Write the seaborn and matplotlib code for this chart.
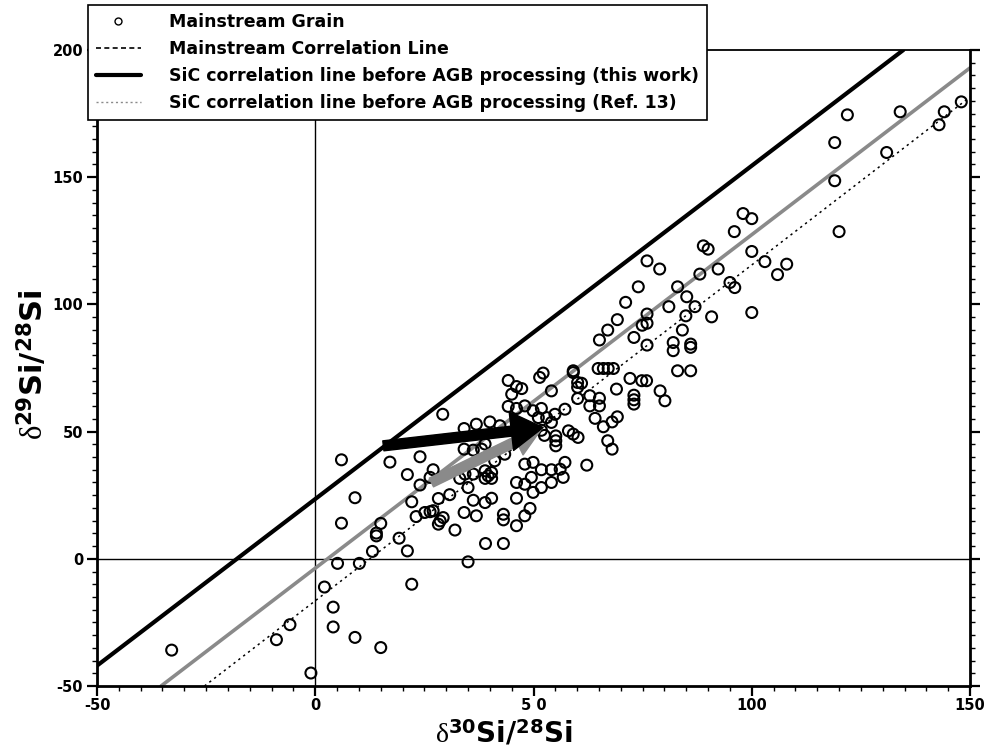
import matplotlib
matplotlib.use("Agg")
import matplotlib.pyplot as plt
from matplotlib.lines import Line2D
from matplotlib.ticker import MultipleLocator
import numpy as np
import pandas as pd
import seaborn as sns

# Mainstream SiC grain silicon isotope compositions (permil)
d30 = [
    -32.9, 6.0, 9.1, 6.0, 15.0, 14.0, 14.0, 13.1, 5.1, 10.1, 2.1, 4.1, 4.1, 9.1, 15.0, -5.8, -8.9, -1.0,
    44.2, 46.1, 47.3, 45.0, 51.4, 52.2, 54.1, 44.2, 46.1, 48.0, 49.9, 51.8, 54.9, 53.0, 51.1, 29.2,
    34.1, 36.9, 40.0, 42.3, 24.0, 17.1, 34.1, 36.2, 38.1, 38.9, 41.1, 43.4, 21.1, 27.0, 26.3, 24.0,
    33.1, 34.3, 36.2, 38.9, 39.6, 40.4, 38.9, 40.4, 35.0, 30.8, 22.1, 28.2, 36.2, 38.9, 40.4, 48.0,
    49.9, 51.8, 54.1, 49.5, 46.1, 48.0, 49.9, 51.8, 54.1, 46.1, 49.2, 48.0, 46.1, 25.1, 26.3, 27.0,
    23.1, 28.6, 29.3, 28.2, 34.1, 36.9, 43.1, 43.1, 32.0, 19.2, 21.1, 39.0, 43.1, 35.0, 22.1,
    88.9, 90.0, 76.0, 78.9, 74.0, 83.0, 88.1, 92.3, 85.1, 87.0, 81.0, 71.1, 69.2, 67.0, 65.1, 73.0,
    76.0, 74.9, 76.0, 84.9, 90.8, 84.1, 76.0, 82.0, 82.0, 86.0, 86.0, 64.8, 66.0, 67.1, 68.3, 59.1,
    59.1, 72.1, 74.8, 75.9, 83.0, 86.0, 60.1, 61.0, 60.1, 69.0, 60.1, 62.9, 65.1, 62.9, 65.1, 57.2,
    73.0, 73.0, 73.0, 79.0, 80.1, 64.1, 66.0, 68.0, 69.2, 67.0, 68.0, 58.0, 59.1, 60.2, 55.1, 55.1,
    55.1, 54.1, 62.2, 57.2, 56.1, 56.8, 51.8, 52.5,
    148.0, 144.1, 142.9, 134.0, 121.9, 119.0, 130.9, 119.0, 120.0, 98.0, 100.0, 96.0, 100.0, 103.0,
    108.0, 105.9, 95.0, 96.1, 100.0,
]
d29 = [
    -35.9, 38.9, 24.0, 14.0, 13.9, 10.1, 9.0, 2.9, -1.8, -1.8, -11.1, -19.0, -26.8, -30.9, -34.9, -25.9, -31.8, -44.9,
    70.1, 67.7, 66.9, 64.7, 71.3, 73.0, 66.0, 59.9, 59.1, 60.1, 58.2, 59.1, 56.8, 55.5, 55.5, 56.8,
    51.2, 52.9, 53.8, 52.3, 40.1, 38.0, 43.1, 42.7, 43.1, 45.1, 38.5, 41.1, 33.1, 35.0, 32.0, 29.0,
    31.6, 33.3, 33.3, 34.6, 32.6, 33.9, 31.6, 31.6, 28.0, 25.2, 22.4, 23.7, 23.0, 22.1, 23.8, 37.2,
    37.9, 35.0, 35.0, 32.0, 30.0, 29.3, 26.1, 28.0, 30.0, 23.8, 19.8, 16.9, 13.0, 18.2, 18.5, 18.9,
    16.6, 14.9, 16.2, 13.6, 18.2, 16.9, 17.5, 15.3, 11.3, 8.1, 3.1, 6.0, 6.0, -1.2, -10.0,
    123.0, 121.7, 117.1, 113.9, 106.9, 106.9, 111.9, 113.9, 103.0, 99.1, 99.1, 100.8, 94.0, 89.9, 86.0, 87.0,
    96.2, 91.8, 92.6, 95.5, 95.1, 89.9, 84.0, 85.0, 81.8, 84.4, 83.1, 74.8, 74.8, 74.8, 74.8, 73.9,
    73.2, 70.9, 70.0, 70.0, 73.9, 73.9, 69.3, 69.0, 67.4, 66.7, 63.0, 64.1, 63.1, 60.1, 60.1, 58.8,
    64.3, 62.5, 60.8, 66.0, 62.1, 55.2, 51.9, 53.8, 55.8, 46.4, 43.1, 50.3, 49.0, 47.7, 48.3, 46.4,
    44.4, 53.6, 36.8, 37.9, 35.2, 32.0, 50.5, 48.5,
    179.6, 175.7, 170.6, 175.7, 174.5, 163.6, 159.7, 148.6, 128.6, 135.7, 133.7, 128.6, 120.8, 116.8,
    115.8, 111.7, 108.6, 106.6, 96.8,
]

# Correlation lines: d29 = slope * d30 + intercept
line_names = ["this work", "mainstream", "Ref. 13"]
line_slopes = [1.31, 1.311, 1.32]
line_intercepts = [23.5, -3.7, -16.5]

# AGB processing shifts (start -> end) in (d30, d29)
black_arrow = [(15.6, 44.4), (52.2, 51.6)]
grey_arrow = [(26.6, 30.0), (51.8, 51.0)]

x_ticks = [-50, 0, 50, 100, 150]
x_tick_labels = ["-50", "0", "5 0", "100", "150"]
y_ticks = [-50, 0, 50, 100, 150, 200]
y_tick_labels = ["-50", "0", "50", "100", "150", "200"]

legend_labels = [
    "Mainstream Grain",
    "Mainstream Correlation Line",
    "SiC correlation line before AGB processing (this work)",
    "SiC correlation line before AGB processing (Ref. 13)",
]

sns.set_style("ticks")
plt.rcParams["font.family"] = ["DejaVu Sans"]
plt.rcParams["mathtext.fontset"] = "custom"
plt.rcParams["mathtext.rm"] = "Liberation Serif"
plt.rcParams["mathtext.bf"] = "DejaVu Sans:bold"
plt.rcParams["mathtext.it"] = "Liberation Serif"
for key in ["text.color", "axes.labelcolor", "xtick.color", "ytick.color", "axes.edgecolor"]:
    plt.rcParams[key] = "black"

GREY = "#8a8a8a"

fig = plt.figure(figsize=(9.84, 7.48), dpi=100)
ax = fig.add_axes([0.0986, 0.0829, 0.8872, 0.8503])

# zero reference lines
ax.axhline(0, color="black", lw=1.0, zorder=1)
ax.axvline(0, color="black", lw=1.0, zorder=1)

# correlation lines
ax.axline((0, line_intercepts[0]), slope=line_slopes[0], color="black", lw=3.0, zorder=2)
ax.axline((0, line_intercepts[1]), slope=line_slopes[1], color=GREY, lw=2.6, zorder=2)
ax.axline((0, line_intercepts[2]), slope=line_slopes[2], color="black", lw=1.1,
          linestyle=(0, (1.5, 2.5)), zorder=2)

df = pd.DataFrame({"d30": d30, "d29": d29})
sns.scatterplot(data=df, x="d30", y="d29", ax=ax, marker="o", s=62,
                facecolor="none", edgecolor="black", linewidth=1.5, zorder=3)

# arrows: grey first, black over it
ax.annotate("", xy=grey_arrow[1], xytext=grey_arrow[0],
            arrowprops=dict(arrowstyle="simple,head_length=1.0,head_width=1.1,tail_width=0.35",
                            color=GREY, shrinkA=0, shrinkB=0, mutation_scale=20), zorder=4)
ax.annotate("", xy=black_arrow[1], xytext=black_arrow[0],
            arrowprops=dict(arrowstyle="simple,head_length=1.15,head_width=1.4,tail_width=0.36",
                            color="black", shrinkA=0, shrinkB=0, mutation_scale=20), zorder=5)

ax.set_xlim(-50, 150)
ax.set_ylim(-50, 200)

ax.set_xticks(x_ticks, x_tick_labels)
ax.set_yticks(y_ticks, y_tick_labels)
ax.xaxis.set_minor_locator(MultipleLocator(5))
ax.yaxis.set_minor_locator(MultipleLocator(5))
ax.tick_params(which="major", direction="out", length=7, width=1.6, labelsize=10.5, pad=3)
ax.tick_params(axis="x", which="major", pad=2)
ax.tick_params(which="minor", direction="out", length=3.5, width=1.0)
ax.tick_params(axis="y", which="both", right=True, labelright=False)
ax.tick_params(axis="x", which="both", top=False)
for lab in ax.get_xticklabels() + ax.get_yticklabels():
    lab.set_fontweight("bold")

for side in ["left", "bottom", "right"]:
    ax.spines[side].set_linewidth(2.0)
ax.spines["top"].set_linewidth(1.3)

ax.set_xlabel(r"$\mathrm{\delta}^{\mathbf{30}}\mathbf{Si/}^{\mathbf{28}}\mathbf{Si}$", fontsize=20)
ax.set_ylabel(r"$\mathrm{\delta}^{\mathbf{29}}\mathbf{Si/}^{\mathbf{28}}\mathbf{Si}$", fontsize=22)
ax.xaxis.set_label_coords(0.466, -0.052)
ax.yaxis.set_label_coords(-0.054, 0.505)

handles = [
    Line2D([], [], marker="o", linestyle="none", markerfacecolor="none",
           markeredgecolor="black", markersize=5, markeredgewidth=1.0),
    Line2D([], [], color="black", lw=1.2, linestyle=(0, (3, 2))),
    Line2D([], [], color="black", lw=3.0),
    Line2D([], [], color=GREY, lw=1.0, linestyle=(0, (1.5, 2))),
]
leg = fig.legend(handles, legend_labels, loc="upper left", bbox_to_anchor=(0.0894, 0.9933),
                 borderaxespad=0, frameon=True, fancybox=False, shadow=False,
                 prop={"weight": "bold", "size": 12.5, "family": "DejaVu Sans"},
                 handlelength=2.6, handletextpad=1.6, labelspacing=0.52, borderpad=0.45)
leg.get_frame().set_edgecolor("black")
leg.get_frame().set_linewidth(1.2)
leg.get_frame().set_facecolor("white")
leg.get_frame().set_alpha(1)

fig.savefig("out.png", dpi=100)
